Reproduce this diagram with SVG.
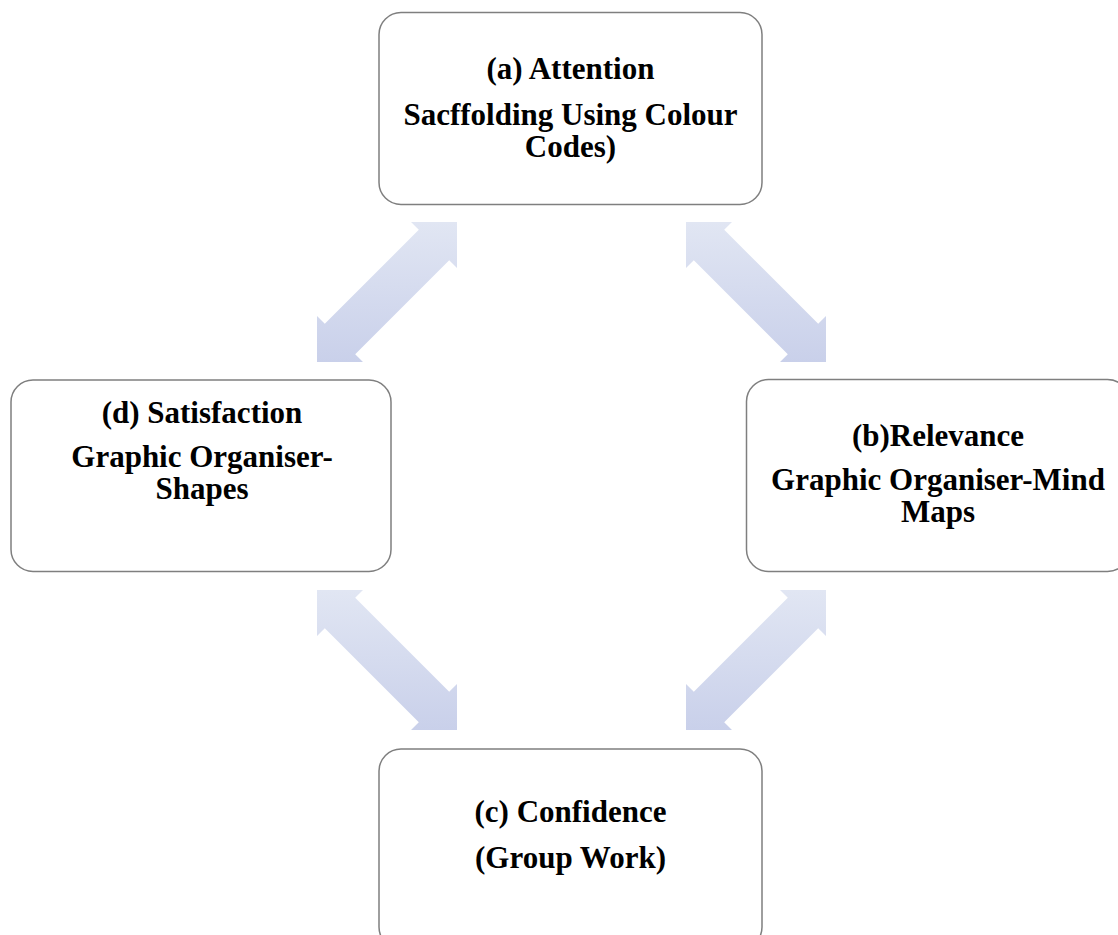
<svg xmlns="http://www.w3.org/2000/svg" xmlns:xlink="http://www.w3.org/1999/xlink" width="1118" height="935" viewBox="0 0 1118 935">
<style>
.box{fill:#ffffff;stroke:#7f7f7f;stroke-width:1.5}
.t{font-family:"Liberation Serif","Times New Roman",serif;font-weight:bold;font-size:31px;fill:#000000;text-anchor:middle}
.arr{fill:url(#g)}
</style>
<defs>
<linearGradient id="g" x1="0" y1="0" x2="0" y2="1">
<stop offset="0" stop-color="#e1e6f3"/>
<stop offset="1" stop-color="#c9d0ea"/>
</linearGradient>
<path id="arrNE" d="M-70,70 L-70,24 L-62.2,31.8 L31.8,-62.2 L24,-70 L70,-70 L70,-24 L62.2,-31.8 L-31.8,62.2 L-24,70 Z"/>
<path id="arrNW" d="M70,70 L70,24 L62.2,31.8 L-31.8,-62.2 L-24,-70 L-70,-70 L-70,-24 L-62.2,-31.8 L31.8,62.2 L24,70 Z"/>
</defs>
<rect width="1118" height="935" fill="#ffffff"/>
<g id="connectors">
<use xlink:href="#arrNE" class="arr" transform="translate(387,292)"/>
<use xlink:href="#arrNW" class="arr" transform="translate(756,292)"/>
<use xlink:href="#arrNW" class="arr" transform="translate(387,660)"/>
<use xlink:href="#arrNE" class="arr" transform="translate(756,660)"/>
</g>
<g id="node-a">
<rect class="box" x="379" y="12.5" width="383" height="192" rx="22"/>
<text class="t" x="570.5" y="79">(a) Attention</text>
<text class="t" x="570.5" y="125">Sacffolding Using Colour</text>
<text class="t" x="570.5" y="157">Codes)</text>
</g>
<g id="node-b">
<rect class="box" x="746.5" y="379.5" width="383" height="192" rx="22"/>
<text class="t" x="938" y="446">(b)Relevance</text>
<text class="t" x="938" y="490">Graphic Organiser-Mind</text>
<text class="t" x="938" y="522">Maps</text>
</g>
<g id="node-c">
<rect class="box" x="379" y="749" width="383" height="200" rx="22"/>
<text class="t" x="570.5" y="822">(c) Confidence</text>
<text class="t" x="570.5" y="868">(Group Work)</text>
</g>
<g id="node-d">
<rect class="box" x="11" y="380" width="380" height="191.5" rx="22"/>
<text class="t" x="202" y="423">(d) Satisfaction</text>
<text class="t" x="202" y="467">Graphic Organiser-</text>
<text class="t" x="202" y="499">Shapes</text>
</g>
</svg>
